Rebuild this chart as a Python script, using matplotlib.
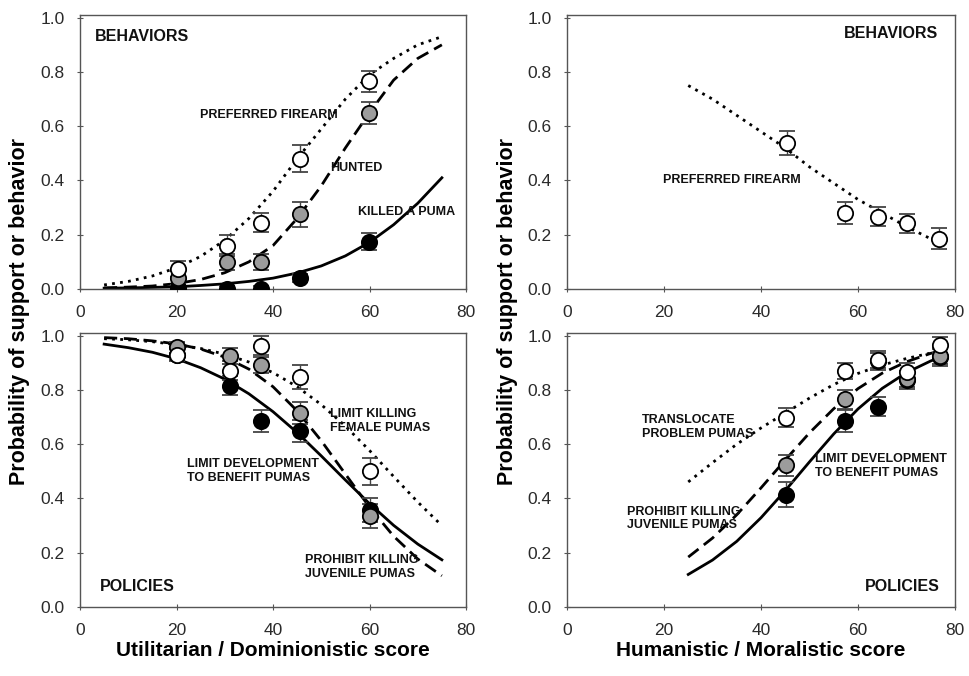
import matplotlib
matplotlib.use("Agg")
import matplotlib.pyplot as plt

plt.rcParams['font.family'] = ['Liberation Sans', 'DejaVu Sans']

# ---- top-left: behaviors vs utilitarian / dominionistic score
xc_left = [5, 10, 15, 20, 25, 30, 35, 40, 45, 50, 55, 60, 65, 70, 75]
tl_firearm_curve = [0.015, 0.028, 0.048, 0.078, 0.12, 0.18, 0.26, 0.36, 0.48, 0.59, 0.70, 0.79, 0.85, 0.90, 0.93]
tl_hunted_curve = [0.004, 0.007, 0.011, 0.02, 0.035, 0.06, 0.10, 0.16, 0.26, 0.38, 0.52, 0.65, 0.77, 0.85, 0.90]
tl_killed_curve = [0.003, 0.004, 0.006, 0.008, 0.013, 0.019, 0.028, 0.04, 0.059, 0.085, 0.122, 0.172, 0.237, 0.316, 0.41]

xp_tl = [20.4, 30.4, 37.6, 45.6, 59.8]
tl_firearm = [0.075, 0.16, 0.245, 0.48, 0.765]
tl_firearm_err = [0.03, 0.04, 0.035, 0.05, 0.037]
tl_hunted = [0.04, 0.10, 0.10, 0.275, 0.65]
tl_hunted_err = [0.025, 0.03, 0.03, 0.045, 0.04]
tl_killed = [0.005, 0.0, 0.0, 0.04, 0.175]
tl_killed_err = [0.01, 0.01, 0.01, 0.015, 0.03]

# ---- top-right: behaviors vs humanistic / moralistic score
xc_tr = [25, 30, 35, 40, 45, 50, 55, 60, 65, 70, 75, 77.5]
tr_firearm_curve = [0.75, 0.70, 0.64, 0.58, 0.52, 0.45, 0.39, 0.33, 0.28, 0.23, 0.185, 0.165]
xp_tr = [45.3, 57.3, 64.2, 70.0, 76.6]
tr_firearm = [0.538, 0.279, 0.267, 0.242, 0.186]
tr_firearm_err = [0.044, 0.04, 0.035, 0.035, 0.04]

# ---- bottom-left: policies vs utilitarian / dominionistic score
bl_female_curve = [0.989, 0.985, 0.978, 0.967, 0.953, 0.932, 0.903, 0.864, 0.812, 0.746, 0.667, 0.577, 0.481, 0.387, 0.30]
bl_juvenile_curve = [0.993, 0.989, 0.981, 0.970, 0.951, 0.921, 0.877, 0.812, 0.723, 0.613, 0.49, 0.368, 0.261, 0.177, 0.115]
bl_develop_curve = [0.969, 0.956, 0.939, 0.915, 0.882, 0.840, 0.786, 0.72, 0.643, 0.557, 0.468, 0.381, 0.301, 0.232, 0.174]
xp_bl = [20.2, 31.0, 37.5, 45.5, 60.2]
bl_female = [0.93, 0.87, 0.963, 0.847, 0.50]
bl_female_err = [0.025, 0.035, 0.035, 0.045, 0.05]
bl_juvenile = [0.957, 0.925, 0.893, 0.715, 0.335]
bl_juvenile_err = [0.02, 0.03, 0.03, 0.04, 0.045]
bl_develop = [0.93, 0.815, 0.685, 0.648, 0.358]
bl_develop_err = [0.02, 0.035, 0.04, 0.04, 0.045]

# ---- bottom-right: policies vs humanistic / moralistic score
xc_br = [25, 30, 35, 40, 45, 50, 55, 60, 65, 70, 75, 77]
br_transl_curve = [0.461, 0.532, 0.60, 0.66, 0.715, 0.77, 0.82, 0.861, 0.892, 0.916, 0.936, 0.942]
br_juvenile_curve = [0.184, 0.254, 0.34, 0.439, 0.542, 0.642, 0.731, 0.805, 0.862, 0.904, 0.935, 0.944]
br_develop_curve = [0.12, 0.173, 0.242, 0.329, 0.429, 0.535, 0.638, 0.73, 0.806, 0.864, 0.907, 0.92]
xp_br = [45.2, 57.3, 64.2, 70.0, 76.9]
br_transl = [0.697, 0.87, 0.912, 0.868, 0.966]
br_transl_err = [0.035, 0.03, 0.03, 0.03, 0.03]
br_juvenile = [0.522, 0.765, 0.905, 0.84, 0.926]
br_juvenile_err = [0.04, 0.035, 0.03, 0.03, 0.03]
br_develop = [0.414, 0.685, 0.738, 0.835, 0.92]
br_develop_err = [0.045, 0.04, 0.035, 0.03, 0.03]

xticks = [0, 20, 40, 60, 80]
yticks = [0.0, 0.2, 0.4, 0.6, 0.8, 1.0]

DOT = (0, (1, 1.9))
DASH = (0, (4.7, 2.4))
GRAY = '#9c9c9c'
SPINE = '#555555'

fig = plt.figure(figsize=(9.69, 6.76), dpi=100, facecolor='white')
W, H = 969., 676.


def make_ax(l, t, r, b):
    ax = fig.add_axes([l / W, 1 - b / H, (r - l) / W, (b - t) / H])
    ax.set_xlim(0, 80)
    ax.set_ylim(0, 1.01)
    ax.set_xticks(xticks)
    ax.set_yticks(yticks)
    ax.set_yticklabels([f"{v:.1f}" for v in yticks])
    ax.tick_params(direction='inout', length=5, width=0.8, color=SPINE,
                   labelsize=12.5, labelcolor='#2a2a2a')
    ax.tick_params(axis='x', pad=9)
    ax.tick_params(axis='y', pad=8.5)
    for s in ax.spines.values():
        s.set_color(SPINE)
        s.set_linewidth(1.0)
    return ax


def curve(ax, x, y, ls):
    ax.plot(x, y, color='black', lw=2, linestyle=ls, zorder=2)


def pts(ax, x, y, e, fc):
    ax.errorbar(x, y, yerr=e, fmt='o', ms=11, mfc=fc, mec='black', mew=1.3,
                ecolor='#444444', elinewidth=1, capsize=6, capthick=1, zorder=3)


lab = dict(fontsize=9, fontweight='bold', color='#111111', va='center')
head = dict(fontsize=11.5, fontweight='bold', color='#111111', va='center')

# top-left
ax = make_ax(80, 15, 466, 289)
curve(ax, xc_left, tl_firearm_curve, DOT)
curve(ax, xc_left, tl_hunted_curve, DASH)
curve(ax, xc_left, tl_killed_curve, '-')
pts(ax, xp_tl, tl_killed, tl_killed_err, 'black')
pts(ax, xp_tl, tl_hunted, tl_hunted_err, GRAY)
pts(ax, xp_tl, tl_firearm, tl_firearm_err, 'white')
ax.text(3.1, 0.93, 'BEHAVIORS', ha='left', **head)
ax.text(24.9, 0.64, 'PREFERRED FIREARM', ha='left', **lab)
ax.text(51.8, 0.445, 'HUNTED', ha='left', **lab)
ax.text(57.6, 0.283, 'KILLED A PUMA', ha='left', **lab)

# top-right
ax = make_ax(567, 15, 955, 289)
curve(ax, xc_tr, tr_firearm_curve, DOT)
pts(ax, xp_tr, tr_firearm, tr_firearm_err, 'white')
ax.text(76.5, 0.94, 'BEHAVIORS', ha='right', **head)
ax.text(19.8, 0.40, 'PREFERRED FIREARM', ha='left', **lab)

# bottom-left
ax = make_ax(80, 333, 466, 607)
curve(ax, xc_left, bl_female_curve, DOT)
curve(ax, xc_left, bl_juvenile_curve, DASH)
curve(ax, xc_left, bl_develop_curve, '-')
pts(ax, xp_bl, bl_develop, bl_develop_err, 'black')
pts(ax, xp_bl, bl_juvenile, bl_juvenile_err, GRAY)
pts(ax, xp_bl, bl_female, bl_female_err, 'white')
ax.text(51.8, 0.685, 'LIMIT KILLING\nFEMALE PUMAS', ha='left', **lab)
ax.text(22.2, 0.50, 'LIMIT DEVELOPMENT\nTO BENEFIT PUMAS', ha='left', **lab)
ax.text(46.6, 0.148, 'PROHIBIT KILLING\nJUVENILE PUMAS', ha='left', **lab)
ax.text(4.1, 0.074, 'POLICIES', ha='left', **head)

# bottom-right
ax = make_ax(567, 333, 955, 607)
curve(ax, xc_br, br_transl_curve, DOT)
curve(ax, xc_br, br_juvenile_curve, DASH)
curve(ax, xc_br, br_develop_curve, '-')
pts(ax, xp_br, br_develop, br_develop_err, 'black')
pts(ax, xp_br, br_juvenile, br_juvenile_err, GRAY)
pts(ax, xp_br, br_transl, br_transl_err, 'white')
ax.text(15.5, 0.663, 'TRANSLOCATE\nPROBLEM PUMAS', ha='left', **lab)
ax.text(51.1, 0.52, 'LIMIT DEVELOPMENT\nTO BENEFIT PUMAS', ha='left', **lab)
ax.text(12.4, 0.326, 'PROHIBIT KILLING\nJUVENILE PUMAS', ha='left', **lab)
ax.text(76.9, 0.074, 'POLICIES', ha='right', **head)

# shared axis titles
fig.text(20 / W, 1 - 311 / H, 'Probability of support or behavior', rotation=90,
         ha='center', va='center', fontsize=15.5, fontweight='bold')
fig.text(508 / W, 1 - 311 / H, 'Probability of support or behavior', rotation=90,
         ha='center', va='center', fontsize=15.5, fontweight='bold')
fig.text(273 / W, 1 - 650 / H, 'Utilitarian / Dominionistic score',
         ha='center', va='center', fontsize=15, fontweight='bold')
fig.text(761 / W, 1 - 650 / H, 'Humanistic / Moralistic score',
         ha='center', va='center', fontsize=15, fontweight='bold')

fig.savefig('out.png', dpi=100, facecolor='white')
